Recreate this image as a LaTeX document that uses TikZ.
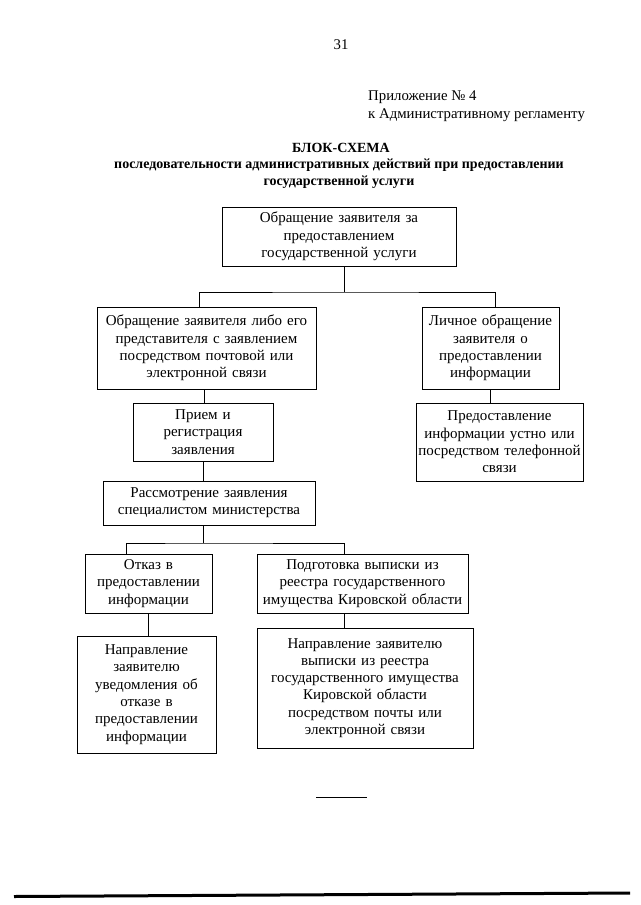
\documentclass[tikz,border=0pt]{standalone}
\usepackage{fontspec}
\setmainfont{Liberation Serif}
\usetikzlibrary{calc}
\begin{document}
\begin{tikzpicture}[x=1pt,y=-1pt,
  txt/.style={font=\fontsize{14.8}{17.5}\selectfont, inner sep=0pt},
  box/.style={draw, line width=1pt, font=\fontsize{15}{17.3}\selectfont, align=center, inner sep=1pt},
  conn/.style={line width=0.9pt}]
\useasboundingbox (0,0) rectangle (640,905);
\fill[white] (0,0) rectangle (640,905);
% header
\node[txt] (pg) at (341,45) {31};
\node[txt, anchor=west] (app1) at (368,97) {Приложение № 4};
\node[txt, anchor=west] (app2) at (368,115) {к Административному регламенту};
\node[txt, font=\fontsize{14}{17}\selectfont\bfseries] (t1) at (341,148) {БЛОК-СХЕМА};
\node[txt, font=\fontsize{14}{17}\selectfont\bfseries, align=center] (t2) at (339,173.5) {последовательности административных действий при предоставлении\\государственной услуги};
% boxes
\node[box, minimum width=234pt, minimum height=59pt, text width=230pt] (top) at (339,236.5) {Обращение заявителя за\\предоставлением\\государственной услуги};
\node[box, minimum width=219pt, minimum height=82pt, text width=215pt] (left2) at (206.5,348) {Обращение заявителя либо его\\представителя с заявлением\\посредством почтовой или\\электронной связи};
\node[box, minimum width=137pt, minimum height=82pt, text width=133pt] (right2) at (490.5,348) {Личное обращение\\заявителя о\\предоставлении\\информации};
\node[box, minimum width=140pt, minimum height=58pt, text width=136pt] (priem) at (203,432) {Прием и\\регистрация\\заявления};
\node[box, minimum width=167pt, minimum height=78pt, text width=163pt] (right3) at (499.5,442) {Предоставление\\информации устно или\\посредством телефонной\\связи};
\node[box, minimum width=212pt, minimum height=44pt, text width=208pt] (rassm) at (209,503) {Рассмотрение заявления\\специалистом министерства};
\node[box, minimum width=127pt, minimum height=59pt, text width=123pt] (otkaz) at (148.5,583.5) {Отказ в\\предоставлении\\информации};
\node[box, minimum width=211pt, minimum height=59pt, text width=207pt] (podg) at (362.5,583.5) {Подготовка выписки из\\реестра государственного\\имущества Кировской области};
\node[box, minimum width=139pt, minimum height=117pt, text width=135pt] (napr1) at (146.5,694.5) {Направление\\заявителю\\уведомления об\\отказе в\\предоставлении\\информации};
\node[box, minimum width=216pt, minimum height=120pt, text width=212pt] (napr2) at (365,688) {Направление заявителю\\выписки из реестра\\государственного имущества\\Кировской области\\посредством почты или\\электронной связи};
% connectors
\coordinate (j1) at (344,292);
\coordinate (a1) at ([xshift=5pt]top.south);
\coordinate (b1) at ([xshift=-7.5pt]left2.north);
\coordinate (c1) at ([xshift=4.5pt]right2.north);
\draw[conn] (a1) -- (j1);
\draw[conn] (b1) |- (j1) -| (c1);
\coordinate (a2) at ([xshift=-2pt]left2.south);
\draw[conn] (a2) -- (a2 |- priem.north);
\draw[conn] (right2.south) -- (right2.south |- right3.north);
\draw[conn] (priem.south) -- (priem.south |- rassm.north);
\coordinate (j2) at (203,543);
\draw[conn] (rassm.south -| j2) -- (j2);
\coordinate (b2) at ([xshift=-22.5pt]otkaz.north);
\coordinate (c2) at ([xshift=-18.5pt]podg.north);
\draw[conn] (b2) |- (j2) -| (c2);
\draw[conn] (otkaz.south) -- (otkaz.south |- napr1.north);
\coordinate (c3) at ([xshift=-18.5pt]podg.south);
\draw[conn] (c3) -- (c3 |- napr2.north);
% footer
\coordinate (s1) at (316,797);
\coordinate (s2) at (367,797);
\draw[line width=1pt] (s1) -- (s2);
\coordinate (f1) at (14,896.5);
\coordinate (f2) at (630,893);
\draw[line width=3pt] (f1) -- (f2);
\end{tikzpicture}
\end{document}
